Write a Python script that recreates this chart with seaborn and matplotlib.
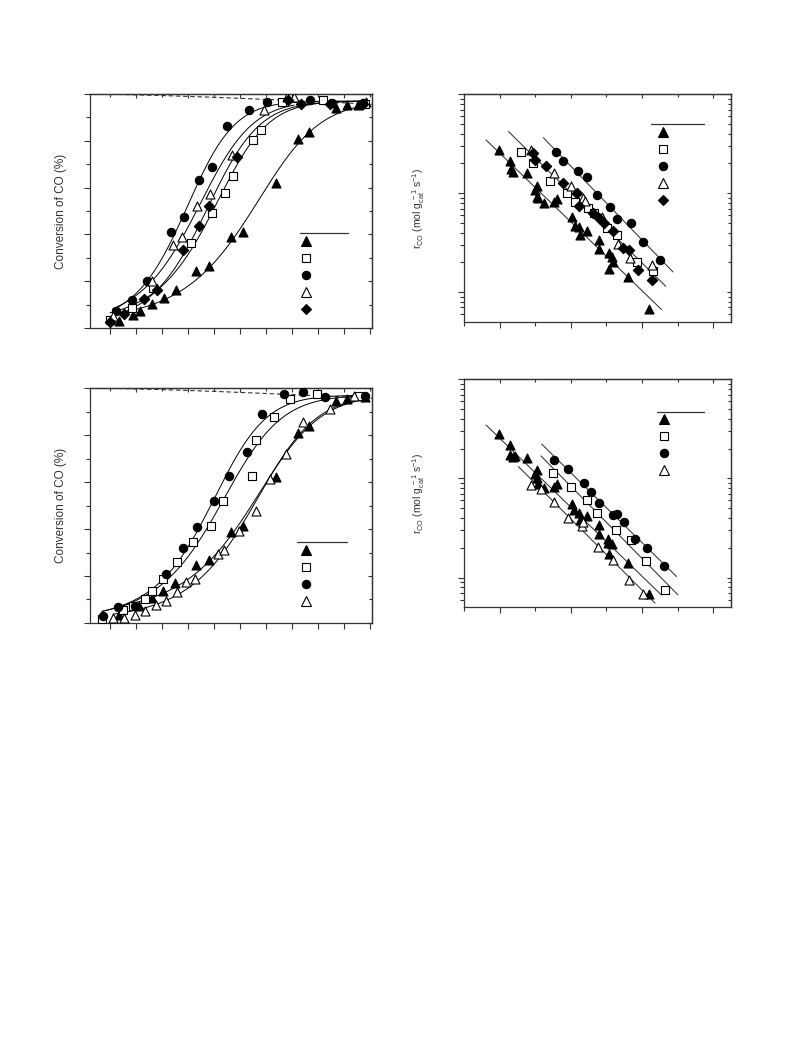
import numpy as np
import matplotlib
matplotlib.use("Agg")
import matplotlib.pyplot as plt
from matplotlib.lines import Line2D
from matplotlib.ticker import MultipleLocator, LogLocator, NullFormatter
import seaborn as sns

sns.set_style("ticks")
plt.rcParams["font.family"] = ["Liberation Sans", "DejaVu Sans"]
plt.rcParams["mathtext.fontset"] = "custom"
plt.rcParams["mathtext.rm"] = "Liberation Sans"
plt.rcParams["mathtext.it"] = "Liberation Sans:italic"

# ---------------- light-off data (conversion %, temperature) ----------------
eq_x = [62, 120, 180, 240, 300, 327]
eq_y = [100.0, 99.4, 98.5, 97.4, 96.2, 95.6]

# panel (a)
a_tri_x = [84.0, 96.8, 103.8, 115.7, 126.9, 138.1, 157.4, 170.5, 191.3, 202.5, 234.6, 256.1, 266.6, 292.3, 303.2, 313.8, 321.1]
a_tri_y = [2.8, 5.4, 7.1, 10.4, 12.8, 16.4, 24.5, 26.4, 38.7, 41.0, 61.8, 80.8, 83.6, 94.0, 95.4, 95.4, 96.4]
a_sq_x = [75.0, 95.8, 116.7, 152.5, 172.7, 185.6, 193.6, 212.2, 219.9, 240.7, 280.1, 320.2]
a_sq_y = [3.6, 8.4, 17.1, 36.3, 49.1, 57.5, 64.8, 80.5, 84.5, 96.4, 97.3, 95.9]
a_circ_x = [80.4, 95.8, 110.9, 133.3, 146.1, 160.9, 173.4, 187.2, 209.0, 226.3, 267.3, 288.1, 318.6]
a_circ_y = [7.1, 12.1, 19.9, 40.9, 47.3, 63.4, 68.7, 86.2, 93.2, 96.7, 97.6, 96.2, 96.2]
a_otri_x = [77.6, 115.1, 135.9, 143.9, 158.3, 171.1, 192.0, 223.1, 244.9, 251.9]
a_otri_y = [5.0, 19.9, 35.3, 38.7, 52.0, 57.4, 73.9, 93.3, 98.6, 98.6]
a_dia_x = [75.0, 88.5, 107.7, 120.5, 145.5, 160.9, 170.2, 196.8, 246.5, 258.3, 286.5, 318.6]
a_dia_y = [2.6, 5.8, 12.4, 16.4, 33.2, 43.4, 52.3, 73.1, 97.3, 95.9, 95.9, 95.9]

# panel (c)
c_tri_x = [84.0, 103.2, 115.1, 126.3, 137.5, 157.4, 170.5, 191.3, 202.5, 234.3, 256.1, 266.6, 292.3, 302.6, 320.2]
c_tri_y = [3.3, 7.4, 10.6, 13.5, 17.0, 24.8, 26.7, 38.9, 41.4, 62.1, 80.9, 83.7, 94.3, 95.3, 96.2]
c_sq_x = [67.0, 87.2, 96.8, 108.6, 115.1, 126.3, 139.1, 155.1, 171.8, 183.3, 211.8, 215.1, 232.7, 248.1, 273.7, 314.7]
c_sq_y = [1.8, 5.7, 7.1, 10.2, 13.8, 18.7, 25.8, 34.6, 41.4, 51.8, 62.4, 77.7, 87.7, 95.3, 97.6, 96.5]
c_circ_x = [67.9, 83.0, 99.0, 128.5, 145.5, 158.3, 175.3, 189.7, 206.4, 220.8, 242.3, 260.2, 282.0, 320.2]
c_circ_y = [3.1, 6.8, 7.1, 21.0, 31.9, 40.9, 52.1, 62.4, 72.9, 89.1, 97.3, 98.2, 96.2, 96.5]
c_otri_x = [78.2, 88.5, 99.0, 108.6, 119.2, 128.8, 139.1, 148.1, 156.7, 179.2, 184.6, 199.4, 215.4, 228.8, 243.9, 260.2, 286.5, 309.6]
c_otri_y = [2.1, 2.1, 3.5, 5.0, 7.8, 9.2, 13.0, 17.4, 18.7, 29.4, 31.2, 39.0, 47.8, 61.3, 72.1, 85.5, 91.1, 96.7]

# ---------------- Arrhenius data (1000/T, log10 rate) ----------------
b_tri_x = [1.997, 2.030, 2.032, 2.039, 2.077, 2.100, 2.105, 2.105, 2.109, 2.125, 2.153, 2.161, 2.203, 2.212, 2.223,
           2.226, 2.245, 2.279, 2.279, 2.306, 2.306, 2.315, 2.318, 2.360, 2.420]
b_tri_y = [-3.562, -3.673, -3.758, -3.781, -3.798, -3.966, -3.926, -4.034, -4.051, -4.101, -4.091, -4.061, -4.242,
           -4.330, -4.337, -4.421, -4.377, -4.471, -4.566, -4.606, -4.764, -4.640, -4.697, -4.852, -5.168]
b_sq_x = [2.060, 2.095, 2.142, 2.189, 2.212, 2.248, 2.266, 2.301, 2.331, 2.387, 2.432]
b_sq_y = [-3.586, -3.697, -3.872, -3.993, -4.084, -4.152, -4.195, -4.347, -4.421, -4.700, -4.785]
b_circ_x = [2.158, 2.178, 2.221, 2.245, 2.273, 2.310, 2.331, 2.368, 2.402, 2.452]
b_circ_y = [-3.586, -3.673, -3.771, -3.838, -4.017, -4.135, -4.263, -4.303, -4.495, -4.673]
b_otri_x = [2.088, 2.153, 2.200, 2.233, 2.241, 2.287, 2.334, 2.366, 2.427]
b_otri_y = [-3.562, -3.791, -3.926, -4.044, -4.074, -4.236, -4.515, -4.657, -4.724]
b_dia_x = [2.093, 2.100, 2.130, 2.177, 2.217, 2.224, 2.262, 2.280, 2.293, 2.318, 2.346, 2.364, 2.388, 2.427]
b_dia_y = [-3.596, -3.663, -3.724, -3.899, -4.000, -4.128, -4.195, -4.253, -4.303, -4.377, -4.556, -4.572,
           -4.774, -4.882]

d_tri_x = [1.997, 2.030, 2.030, 2.039, 2.042, 2.077, 2.100, 2.105, 2.105, 2.109, 2.125, 2.153, 2.161, 2.203, 2.209,
           2.223, 2.226, 2.245, 2.279, 2.279, 2.304, 2.304, 2.315, 2.306, 2.360, 2.420]
d_tri_y = [-3.556, -3.663, -3.764, -3.788, -3.774, -3.798, -3.956, -3.916, -4.000, -4.051, -4.101, -4.084, -4.057,
           -4.253, -4.320, -4.347, -4.421, -4.377, -4.471, -4.562, -4.606, -4.646, -4.657, -4.758, -4.852, -5.162]
d_sq_x = [2.151, 2.200, 2.245, 2.275, 2.327, 2.368, 2.411, 2.466]
d_sq_y = [-3.943, -4.084, -4.219, -4.347, -4.522, -4.623, -4.832, -5.121]
d_circ_x = [2.153, 2.193, 2.237, 2.257, 2.279, 2.318, 2.329, 2.350, 2.380, 2.415, 2.462]
d_circ_y = [-3.815, -3.902, -4.044, -4.135, -4.246, -4.367, -4.360, -4.438, -4.606, -4.700, -4.882]
d_otri_x = [2.088, 2.117, 2.153, 2.193, 2.231, 2.234, 2.276, 2.318, 2.364, 2.402]
d_otri_y = [-4.067, -4.108, -4.236, -4.397, -4.478, -4.438, -4.690, -4.825, -5.027, -5.162]

# marker styles: (marker, face, size)
TRI = ("^", "black", 42)
SQ = ("s", "white", 26)
CIRC = ("o", "black", 36)
OTRI = ("^", "white", 42)
DIA = ("D", "black", 28)

SPINE = "#333333"
PLATEAU = 97.0


def fit_sigmoid(xs, ys, deg=2, iters=60):
    """Least-squares sigmoid (polynomial in the logit) fitted in conversion space."""
    u = (xs - 180.0) / 100.0
    r = np.clip(ys / PLATEAU, 0.02, 0.98)
    X = np.vander(u, deg + 1)
    c = np.linalg.lstsq(X, np.log(r / (1 - r)), rcond=None)[0]
    for _ in range(iters):
        s = 1 / (1 + np.exp(-(X @ c)))
        J = (PLATEAU * s * (1 - s))[:, None] * X
        step = np.linalg.lstsq(J, ys - PLATEAU * s, rcond=None)[0]
        c = c + 0.7 * step
    return c


def style_axes(ax):
    for s in ax.spines.values():
        s.set_color(SPINE)
        s.set_linewidth(0.9)
        s.set_visible(True)
    ax.tick_params(which="both", direction="out", color=SPINE, width=0.8,
                   labelbottom=False, labelleft=False)
    ax.tick_params(which="major", length=4.5)
    ax.tick_params(which="minor", length=3)
    # mirrored inward ticks on top / right
    top = ax.secondary_xaxis("top")
    right = ax.secondary_yaxis("right")
    for sec in (top, right):
        sec.tick_params(which="both", direction="in", color=SPINE, width=0.8,
                        labeltop=False, labelright=False, labelbottom=False, labelleft=False)
        sec.tick_params(which="major", length=3)
        sec.tick_params(which="minor", length=2)
        for s in sec.spines.values():
            s.set_color(SPINE)
            s.set_linewidth(0.9)
    return top, right


def add_key(ax, styles, line_x, line_y, anchor):
    ax.plot(line_x, [line_y, line_y], transform=ax.transAxes, color=SPINE, lw=0.9, clip_on=False)
    handles = [Line2D([], [], marker=m, markerfacecolor=f, markeredgecolor="black",
                      markersize=np.sqrt(s), linestyle="none", markeredgewidth=0.8)
               for m, f, s in styles]
    ax.legend(handles, [" "] * len(handles), loc="upper left", bbox_to_anchor=anchor,
              frameon=False, borderpad=0, borderaxespad=0, handlelength=1.0,
              handletextpad=0.2, labelspacing=0.42, fontsize=8.5)


def conversion_panel(ax, series):
    sns.lineplot(x=eq_x, y=eq_y, ax=ax, color=SPINE, lw=0.8, linestyle=(0, (4, 2.5)),
                 estimator=None, sort=False)
    for xs, ys, (m, f, s) in series:
        xs = np.asarray(xs)
        ys = np.asarray(ys)
        coef = fit_sigmoid(xs, ys)
        grid = np.linspace(xs.min(), xs.max(), 300)
        fit = PLATEAU / (1 + np.exp(-np.polyval(coef, (grid - 180.0) / 100.0)))
        sns.lineplot(x=grid, y=fit, ax=ax, color="black", lw=0.7, estimator=None, sort=False)
        sns.scatterplot(x=xs, y=ys, ax=ax, marker=m, color=f, edgecolor="black",
                        linewidth=0.8, s=s, zorder=3)
    ax.set_xlim(55.8, 326.9)
    ax.set_ylim(0, 100)
    ax.xaxis.set_major_locator(MultipleLocator(50))
    ax.xaxis.set_minor_locator(MultipleLocator(25))
    ax.yaxis.set_major_locator(MultipleLocator(20))
    ax.yaxis.set_minor_locator(MultipleLocator(10))
    top, right = style_axes(ax)
    ax.tick_params(axis="x", which="minor", length=4.5)
    top.xaxis.set_major_locator(MultipleLocator(50))
    top.xaxis.set_minor_locator(MultipleLocator(25))
    right.yaxis.set_major_locator(MultipleLocator(20))
    right.yaxis.set_minor_locator(MultipleLocator(10))
    ax.set_xlabel("")
    ax.set_ylabel("Conversion of CO (%)", fontsize=8.5, color="#333333")
    ax.yaxis.set_label_coords(-0.08, 0.5)


def arrhenius_panel(ax, series, groups):
    for xs, ys, (m, f, s) in series:
        sns.scatterplot(x=xs, y=10 ** np.asarray(ys), ax=ax, marker=m, color=f, edgecolor="black",
                        linewidth=0.8, s=s, zorder=3)
    for idx in groups:
        gx = np.concatenate([series[i][0] for i in idx])
        gy = np.concatenate([series[i][1] for i in idx])
        coef = np.polyfit(gx, gy, 1)
        lx = np.array([gx.min() - 0.035, gx.max() + 0.035])
        sns.lineplot(x=lx, y=10 ** np.polyval(coef, lx), ax=ax, color="#333333", lw=0.75,
                     estimator=None, sort=False)
    ax.set_yscale("log")
    ax.set_xlim(1.9, 2.65)
    ax.set_ylim(10 ** -5.3, 1e-3)
    ax.xaxis.set_major_locator(MultipleLocator(0.2))
    ax.xaxis.set_minor_locator(MultipleLocator(0.1))
    ax.yaxis.set_major_locator(LogLocator(base=10))
    ax.yaxis.set_minor_locator(LogLocator(base=10, subs=np.arange(2, 10)))
    ax.yaxis.set_minor_formatter(NullFormatter())
    top, right = style_axes(ax)
    top.xaxis.set_major_locator(MultipleLocator(0.2))
    top.xaxis.set_minor_locator(MultipleLocator(0.1))
    right.yaxis.set_minor_formatter(NullFormatter())
    ax.set_xlabel("")
    ax.set_ylabel(r"r$_{\rm CO}$ (mol g$_{\rm cat}^{\ -1}$ s$^{-1}$)", fontsize=7.5, color="#333333")
    ax.yaxis.set_label_coords(-0.14, 0.5)


fig = plt.figure(figsize=(7.93, 10.57), dpi=100)
ax_a = fig.add_axes([0.1135, 0.6897, 0.3556, 0.2214])
ax_b = fig.add_axes([0.5851, 0.6956, 0.3367, 0.2151])
ax_c = fig.add_axes([0.1135, 0.4106, 0.3556, 0.2223])
ax_d = fig.add_axes([0.5851, 0.4254, 0.3367, 0.2157])

conversion_panel(ax_a, [(a_tri_x, a_tri_y, TRI), (a_sq_x, a_sq_y, SQ), (a_circ_x, a_circ_y, CIRC),
                        (a_otri_x, a_otri_y, OTRI), (a_dia_x, a_dia_y, DIA)])
add_key(ax_a, [TRI, SQ, CIRC, OTRI, DIA], [0.745, 0.915], 0.406, (0.746, 0.392))

conversion_panel(ax_c, [(c_tri_x, c_tri_y, TRI), (c_sq_x, c_sq_y, SQ), (c_circ_x, c_circ_y, CIRC),
                        (c_otri_x, c_otri_y, OTRI)])
add_key(ax_c, [TRI, SQ, CIRC, OTRI], [0.733, 0.910], 0.343, (0.745, 0.330))

b_series = [(b_tri_x, b_tri_y, TRI), (b_sq_x, b_sq_y, SQ), (b_circ_x, b_circ_y, CIRC),
            (b_otri_x, b_otri_y, OTRI), (b_dia_x, b_dia_y, DIA)]
arrhenius_panel(ax_b, b_series, [[0], [1, 3, 4], [2]])
add_key(ax_b, [TRI, SQ, CIRC, OTRI, DIA], [0.699, 0.899], 0.868, (0.722, 0.857))

d_series = [(d_tri_x, d_tri_y, TRI), (d_sq_x, d_sq_y, SQ), (d_circ_x, d_circ_y, CIRC),
            (d_otri_x, d_otri_y, OTRI)]
arrhenius_panel(ax_d, d_series, [[0], [1], [2], [3]])
add_key(ax_d, [TRI, SQ, CIRC, OTRI], [0.724, 0.899], 0.858, (0.728, 0.847))

fig.savefig("out.png", dpi=100, facecolor="white")
